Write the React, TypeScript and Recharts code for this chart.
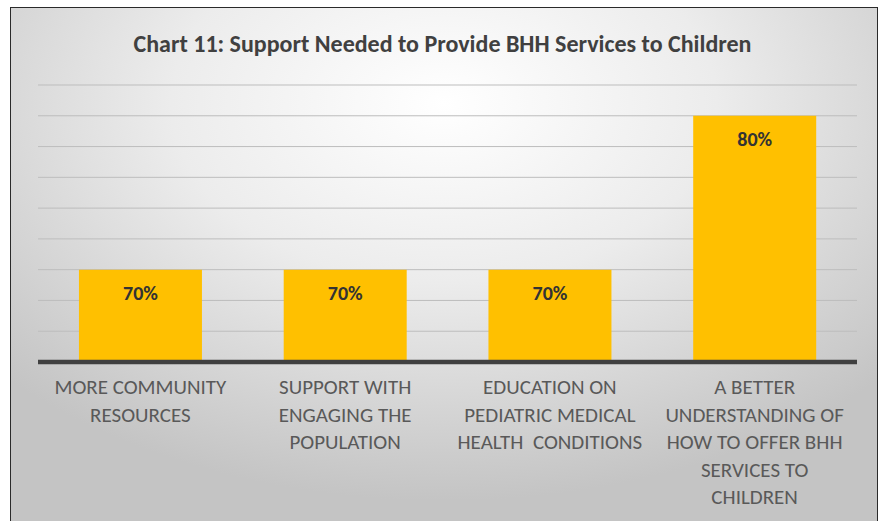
import { Bar, BarChart, CartesianGrid, LabelList, XAxis, YAxis } from "recharts";

const categories = [
  "MORE COMMUNITY\nRESOURCES",
  "SUPPORT WITH\nENGAGING THE\nPOPULATION",
  "EDUCATION ON\nPEDIATRIC MEDICAL\nHEALTH  CONDITIONS",
  "A BETTER\nUNDERSTANDING OF\nHOW TO OFFER BHH\nSERVICES TO\nCHILDREN",
];
const percentages = [70, 70, 70, 80];
const yTicks = [64, 66, 68, 70, 72, 74, 76, 78, 80, 82];

const data = categories.map((name, i) => ({ name, value: percentages[i] }));

const labelFont = "Carlito, 'Liberation Sans Narrow', 'Arial Narrow', 'Open Sans', sans-serif";

function CategoryTick({ x, y, payload }: any) {
  const lines = String(payload.value).split("\n");
  return (
    <text x={x} y={y} textAnchor="middle" fill="#595959" fontSize={21} fontFamily={labelFont}>
      {lines.map((line, i) => (
        <tspan key={i} x={x} dy={i === 0 ? 24 : 27.5} style={{ whiteSpace: "pre" }}>
          {line}
        </tspan>
      ))}
    </text>
  );
}

export default function App() {
  return (
    <div style={{ position: "fixed", left: 0, top: 0, width: 885, height: 521, overflow: "hidden", background: "#fff" }}>
      <div
        style={{
          position: "absolute",
          left: 10,
          top: 7,
          width: 866,
          height: 530,
          border: "1.5px solid #2a2a2a",
          background: "radial-gradient(ellipse 70% 75% at 50% 18%, #ffffff 0%, #ececec 45%, #d6d6d6 75%, #c4c4c4 100%)",
        }}
      />
      <div
        style={{
          position: "absolute",
          left: 0,
          top: 29,
          width: 885,
          textAlign: "center",
          fontFamily: labelFont,
          fontWeight: "bold",
          fontSize: 24,
          color: "#404040",
        }}
      >
        Chart 11: Support Needed to Provide BHH Services to Children
      </div>
      <div style={{ position: "absolute", left: 0, top: 0 }}>
        <BarChart
          width={885}
          height={521}
          data={data}
          margin={{ top: 85, right: 28, bottom: 0, left: 38 }}
          barCategoryGap="20%"
        >
          <CartesianGrid vertical={false} stroke="#bdbdbd" strokeWidth={1} />
          <YAxis hide domain={[64, 82]} ticks={yTicks} type="number" allowDataOverflow />
          <XAxis
            dataKey="name"
            axisLine={{ stroke: "#404040", strokeWidth: 4.5 }}
            tickLine={false}
            interval={0}
            tick={<CategoryTick />}
            height={159}
          />
          <Bar dataKey="value" fill="#FFC000" isAnimationActive={false}>
            <LabelList
              dataKey="value"
              position="insideTop"
              offset={16}
              formatter={(v: any) => `${v}%`}
              fill="#333333"
              fontSize={20}
              fontWeight="bold"
              fontFamily={labelFont}
            />
          </Bar>
        </BarChart>
      </div>
    </div>
  );
}
